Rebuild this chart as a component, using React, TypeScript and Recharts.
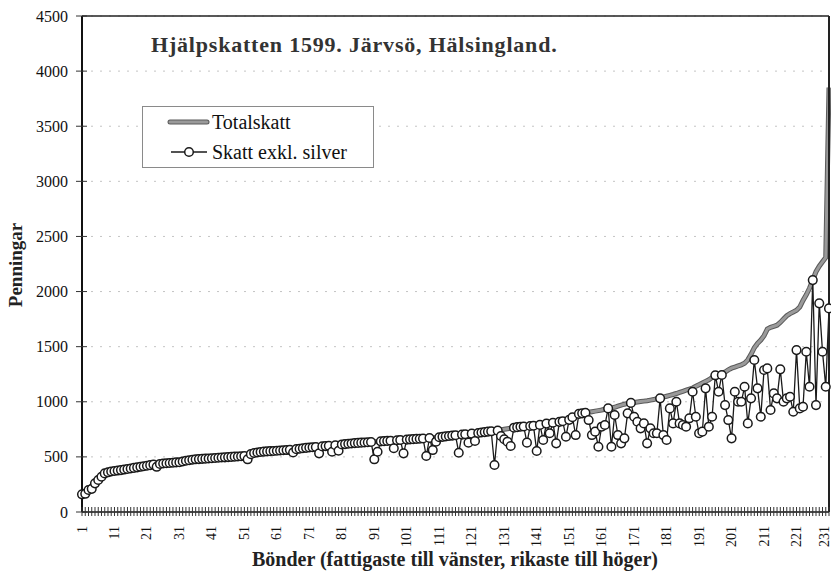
import React from "react";
import {
  LineChart,
  Line,
  XAxis,
  YAxis,
  CartesianGrid,
  ReferenceLine,
  Legend,
} from "recharts";

// Totalskatt per bonde, sorted poorest to richest (penningar)
const totalskatt = [
  160, 165, 200, 210, 260, 290, 320, 350, 360, 368,
  372, 376, 380, 385, 390, 395, 400, 405, 410, 415,
  420, 425, 430, 433, 436, 440, 442, 445, 447, 450,
  452, 458, 465, 470, 474, 478, 480, 482, 484, 486,
  488, 490, 492, 494, 496, 498, 500, 502, 504, 506,
  508, 512, 525, 535, 540, 545, 548, 550, 552, 554,
  556, 558, 560, 562, 564, 566, 570, 574, 578, 582,
  585, 588, 590, 592, 595, 598, 600, 603, 606, 610,
  613, 616, 619, 622, 625, 627, 629, 631, 633, 635,
  637, 639, 641, 643, 645, 647, 649, 651, 653, 655,
  657, 659, 661, 663, 665, 667, 669, 671, 673, 675,
  678, 682, 686, 690, 693, 696, 699, 702, 705, 708,
  711, 714, 717, 721, 725, 729, 732, 735, 738, 745,
  750, 755, 760, 765, 770, 774, 776, 778, 780, 783,
  786, 790, 798, 802, 806, 810, 814, 818, 824, 830,
  836, 860, 875, 890, 895, 900, 905, 910, 915, 920,
  925, 932, 940, 945, 950, 960, 970, 978, 985, 990,
  994, 998, 1002, 1006, 1010, 1015, 1020, 1028, 1035, 1042,
  1050, 1058, 1066, 1075, 1085, 1095, 1105, 1115, 1125, 1140,
  1155, 1170, 1185, 1200, 1220, 1240, 1245, 1255, 1270, 1290,
  1305, 1315, 1325, 1335, 1350, 1380, 1430, 1490, 1530, 1560,
  1600, 1660, 1675, 1685, 1695, 1720, 1750, 1780, 1800, 1815,
  1830, 1860, 1920, 1970, 2030, 2105, 2180, 2230, 2270, 2310,
  3850,
];

// Skatt exkl. silver, same order
const skattExklSilver = [
  160, 165, 200, 210, 260, 290, 320, 350, 360, 368,
  372, 376, 380, 385, 390, 395, 400, 405, 410, 415,
  420, 425, 430, 410, 436, 440, 442, 445, 447, 450,
  452, 458, 465, 470, 474, 478, 480, 482, 484, 486,
  488, 490, 492, 494, 496, 498, 500, 502, 504, 506,
  508, 478, 525, 535, 540, 545, 548, 550, 552, 554,
  556, 558, 560, 562, 564, 540, 570, 574, 578, 582,
  585, 588, 590, 532, 595, 598, 600, 547, 606, 556,
  613, 616, 619, 622, 625, 627, 629, 631, 633, 635,
  478, 547, 641, 643, 645, 647, 578, 651, 653, 532,
  657, 659, 661, 663, 665, 667, 508, 671, 562, 638,
  678, 682, 686, 690, 693, 696, 538, 702, 705, 629,
  711, 644, 717, 721, 725, 729, 732, 426, 738, 690,
  660, 638, 599, 765, 770, 774, 776, 629, 780, 783,
  553, 790, 653, 802, 714, 810, 623, 818, 824, 683,
  836, 860, 698, 890, 895, 900, 834, 698, 729, 592,
  774, 789, 940, 592, 880, 698, 623, 668, 895, 990,
  864, 819, 759, 804, 623, 759, 714, 714, 1031, 698,
  653, 940, 804, 1000, 804, 789, 774, 850, 1091, 864,
  714, 729, 1122, 774, 864, 1240, 1091, 1243, 970, 834,
  668, 1091, 1000, 1000, 1136, 804, 1031, 1379, 1122, 864,
  1288, 1303, 925, 1076, 1031, 1294, 1000, 1031, 1046, 910,
  1469, 940, 955, 1454, 1136, 2104, 970, 1893, 1454, 1136,
  1847,
];

const xTickLabels = [
  1, 11, 21, 31, 41, 51, 61, 71, 81, 91, 101, 111,
  121, 131, 141, 151, 161, 171, 181, 191, 201, 211, 221, 231,
];
const yTicks = [0, 500, 1000, 1500, 2000, 2500, 3000, 3500, 4000, 4500];

const title = "Hjälpskatten 1599. Järvsö, Hälsingland.";
const yLabel = "Penningar";
const xLabel = "Bönder (fattigaste till vänster, rikaste till höger)";
const seriesNames = ["Totalskatt", "Skatt exkl. silver"];

const data = totalskatt.map((t, i) => ({
  n: i + 1,
  total: t,
  exSilver: skattExklSilver[i],
}));

const serif = '"Liberation Serif", "Times New Roman", serif';

// tick marks cross the axis line, like the old spreadsheet chart
function XTick(props: any) {
  const { x, y, payload } = props;
  const axisY = y - 14;
  const lx = Math.min(x, 824);
  return (
    <g>
      <line x1={x} y1={axisY - 5} x2={x} y2={axisY + 4} stroke="#333" strokeWidth={1} />
      {xTickLabels.includes(payload.value) && (
        <text
          x={lx}
          y={y}
          transform={`rotate(-90, ${lx}, ${y})`}
          textAnchor="end"
          dominantBaseline="central"
          fontSize={14}
          fontFamily={serif}
          fill="#111"
        >
          {payload.value}
        </text>
      )}
    </g>
  );
}

function YTick(props: any) {
  const { x, y, payload } = props;
  return (
    <g>
      <line x1={x + 8} y1={y} x2={x + 19} y2={y} stroke="#333" strokeWidth={1} />
      <text x={x} y={y} dy="0.35em" textAnchor="end" fontSize={16} fontFamily={serif} fill="#111">
        {payload.value}
      </text>
    </g>
  );
}

function ChartLegend() {
  return (
    <div
      style={{
        width: 230,
        height: 60,
        border: "1px solid #8a8a8a",
        background: "#fff",
        fontFamily: serif,
        fontSize: 20,
        color: "#111",
      }}
    >
      <div style={{ display: "flex", alignItems: "center", height: 30, paddingLeft: 24 }}>
        <svg width={44} height={12}>
          <line x1={3} y1={6} x2={40} y2={6} stroke="#5a5a5a" strokeWidth={5} strokeLinecap="round" />
          <line x1={3} y1={6} x2={40} y2={6} stroke="#9a9a9a" strokeWidth={3} strokeLinecap="round" />
        </svg>
        <span style={{ marginLeft: 1, fontFamily: serif }}>{seriesNames[0]}</span>
      </div>
      <div style={{ display: "flex", alignItems: "center", height: 30, paddingLeft: 24 }}>
        <svg width={44} height={12}>
          <line x1={4} y1={6} x2={40} y2={6} stroke="#1a1a1a" strokeWidth={1.3} />
          <circle cx={22} cy={6} r={4.3} fill="#fff" stroke="#1a1a1a" strokeWidth={1.5} />
        </svg>
        <span style={{ marginLeft: 1, fontFamily: serif }}>{seriesNames[1]}</span>
      </div>
    </div>
  );
}

export default function App() {
  return (
    <div style={{ position: "absolute", left: 0, top: 0, width: 831, height: 573, background: "#fff" }}>
      <LineChart
        width={831}
        height={573}
        data={data}
        margin={{ top: 16, right: 0, bottom: 0, left: 0 }}
      >
        <CartesianGrid vertical={false} stroke="#c4c4c4" strokeDasharray="2 7" />
        <XAxis
          dataKey="n"
          type="category"
          interval={0}
          height={61}
          tick={XTick}
          tickSize={5}
          tickMargin={9}
          tickLine={false}
          axisLine={{ stroke: "#111", strokeWidth: 1.5 }}
        />
        <YAxis
          domain={[0, 4500]}
          ticks={yTicks}
          width={82}
          tickSize={6}
          tickMargin={8}
          tick={YTick}
          tickLine={false}
          axisLine={{ stroke: "#111", strokeWidth: 2 }}
        />
        <YAxis
          yAxisId="r"
          orientation="right"
          domain={[0, 4500]}
          width={2}
          tick={false}
          tickLine={false}
          axisLine={{ stroke: "#222", strokeWidth: 2 }}
        />
        <ReferenceLine y={4500} stroke="#222" strokeWidth={1.5} />
        <Legend
          layout="vertical"
          align="center"
          verticalAlign="middle"
          content={() => <ChartLegend />}
          wrapperStyle={{ left: 142, top: 106, width: 232, height: 62 }}
        />
        <Line
          type="linear"
          dataKey="total"
          name={seriesNames[0]}
          stroke="#5a5a5a"
          strokeWidth={5}
          dot={false}
          activeDot={false}
          legendType="none"
          isAnimationActive={false}
        />
        <Line
          type="linear"
          dataKey="total"
          name={seriesNames[0]}
          stroke="#9a9a9a"
          strokeWidth={3}
          dot={false}
          activeDot={false}
          isAnimationActive={false}
        />
        <Line
          type="linear"
          dataKey="exSilver"
          name={seriesNames[1]}
          stroke="#1a1a1a"
          strokeWidth={1.3}
          dot={{ r: 4.3, fill: "#fff", stroke: "#1a1a1a", strokeWidth: 1.5 }}
          activeDot={false}
          isAnimationActive={false}
        />
      </LineChart>
      <svg
        width={831}
        height={573}
        style={{ position: "absolute", left: 0, top: 0, pointerEvents: "none" }}
      >
        <text x={151} y={52} fontFamily={serif} fontWeight="bold" fontSize={22} letterSpacing={0.8} fill="#333">
          {title}
        </text>
        <text
          transform="translate(22, 265) rotate(-90)"
          textAnchor="middle"
          fontFamily={serif}
          fontWeight="bold"
          fontSize={19}
          fill="#222"
        >
          {yLabel}
        </text>
        <text x={455} y={566} textAnchor="middle" fontFamily={serif} fontWeight="bold" fontSize={20} fill="#222">
          {xLabel}
        </text>
      </svg>
    </div>
  );
}
